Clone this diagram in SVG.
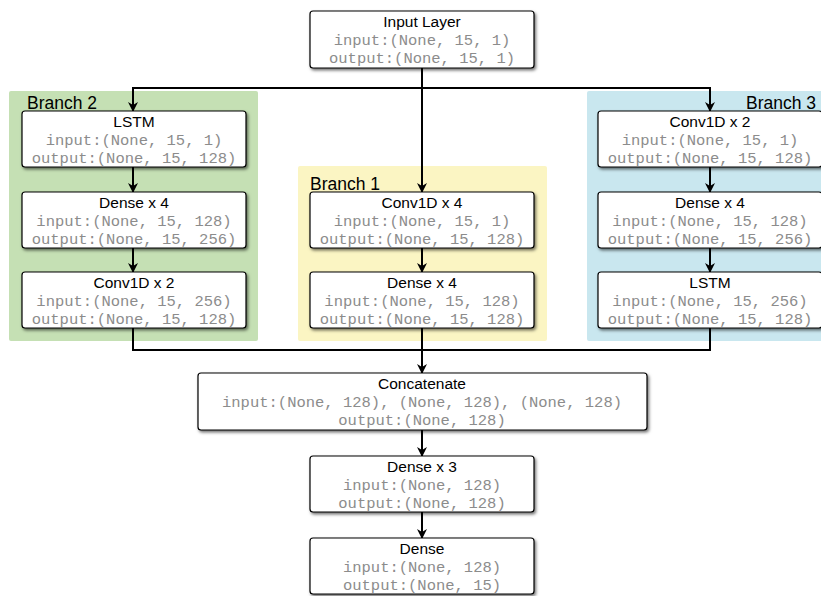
<svg xmlns="http://www.w3.org/2000/svg" width="821" height="596" viewBox="0 0 821 596">
<defs>
<filter id="sh" x="-10%" y="-10%" width="125%" height="140%">
<feDropShadow dx="1.5" dy="2" stdDeviation="1.5" flood-color="#000" flood-opacity="0.55"/>
</filter>
<marker id="ah" viewBox="0 0 10 10" refX="9" refY="5" markerWidth="10" markerHeight="10" markerUnits="userSpaceOnUse" orient="auto">
<path d="M0,0 L10,5 L0,10 L3,5 Z" fill="#000"/>
</marker>
<style>
.box{fill:#fff;stroke:#000;stroke-width:1.2;filter:url(#sh)}
.t{font-family:"Liberation Sans",Arial,sans-serif;font-size:15.5px;fill:#000;text-anchor:middle}
.m{font-family:"Liberation Mono","Courier New",monospace;font-size:15.5px;fill:#8c8c8c;text-anchor:middle}
.bl{font-family:"Liberation Sans",Arial,sans-serif;font-size:17.5px;fill:#000}
.c{fill:none;stroke:#000;stroke-width:2}
</style>
</defs>
<rect width="821" height="596" fill="#fff"/>
<g id="branches">
<rect x="9" y="91" width="249" height="250" rx="2" fill="#c5e0b4"/>
<rect x="298" y="166" width="249" height="175" rx="2" fill="#fbf5c3"/>
<rect x="587" y="91" width="240" height="250" rx="2" fill="#c9e7ef"/>
<text class="bl" x="27" y="109">Branch 2</text>
<text class="bl" x="310" y="190">Branch 1</text>
<text class="bl" x="816" y="109" text-anchor="end">Branch 3</text>
</g>
<g id="connectors">
<path class="c" d="M422,68 V192" marker-end="url(#ah)"/>
<path class="c" d="M133,111 V88 H710 V111" marker-end="url(#ah)"/>
<path class="c" d="M133,88 V111" marker-end="url(#ah)"/>
<path class="c" d="M133,167 V192" marker-end="url(#ah)"/>
<path class="c" d="M133,248 V272" marker-end="url(#ah)"/>
<path class="c" d="M710,167 V192" marker-end="url(#ah)"/>
<path class="c" d="M710,248 V272" marker-end="url(#ah)"/>
<path class="c" d="M422,248 V272" marker-end="url(#ah)"/>
<path class="c" d="M133,328 V350 H710 V328"/>
<path class="c" d="M422,328 V373" marker-end="url(#ah)"/>
<path class="c" d="M422,430 V456" marker-end="url(#ah)"/>
<path class="c" d="M422,512 V538" marker-end="url(#ah)"/>
</g>
<g id="input">
<rect class="box" x="310" y="11" width="224" height="57" rx="3"/>
<text class="t" x="422" y="27">Input Layer</text>
<text class="m" x="422" y="45">input:(None, 15, 1)</text>
<text class="m" x="422" y="63">output:(None, 15, 1)</text>
</g>
<g id="b2_lstm">
<rect class="box" x="22" y="111" width="224" height="56" rx="3"/>
<text class="t" x="134" y="127">LSTM</text>
<text class="m" x="134" y="145">input:(None, 15, 1)</text>
<text class="m" x="134" y="163">output:(None, 15, 128)</text>
</g>
<g id="b2_dense">
<rect class="box" x="22" y="192" width="224" height="56" rx="3"/>
<text class="t" x="134" y="208">Dense x 4</text>
<text class="m" x="134" y="226">input:(None, 15, 128)</text>
<text class="m" x="134" y="244">output:(None, 15, 256)</text>
</g>
<g id="b2_conv">
<rect class="box" x="22" y="272" width="224" height="56" rx="3"/>
<text class="t" x="134" y="288">Conv1D x 2</text>
<text class="m" x="134" y="306">input:(None, 15, 256)</text>
<text class="m" x="134" y="324">output:(None, 15, 128)</text>
</g>
<g id="b1_conv">
<rect class="box" x="310" y="192" width="224" height="56" rx="3"/>
<text class="t" x="422" y="208">Conv1D x 4</text>
<text class="m" x="422" y="226">input:(None, 15, 1)</text>
<text class="m" x="422" y="244">output:(None, 15, 128)</text>
</g>
<g id="b1_dense">
<rect class="box" x="310" y="272" width="224" height="56" rx="3"/>
<text class="t" x="422" y="288">Dense x 4</text>
<text class="m" x="422" y="306">input:(None, 15, 128)</text>
<text class="m" x="422" y="324">output:(None, 15, 128)</text>
</g>
<g id="b3_conv">
<rect class="box" x="598" y="111" width="224" height="56" rx="3"/>
<text class="t" x="710" y="127">Conv1D x 2</text>
<text class="m" x="710" y="145">input:(None, 15, 1)</text>
<text class="m" x="710" y="163">output:(None, 15, 128)</text>
</g>
<g id="b3_dense">
<rect class="box" x="598" y="192" width="224" height="56" rx="3"/>
<text class="t" x="710" y="208">Dense x 4</text>
<text class="m" x="710" y="226">input:(None, 15, 128)</text>
<text class="m" x="710" y="244">output:(None, 15, 256)</text>
</g>
<g id="b3_lstm">
<rect class="box" x="598" y="272" width="224" height="56" rx="3"/>
<text class="t" x="710" y="288">LSTM</text>
<text class="m" x="710" y="306">input:(None, 15, 256)</text>
<text class="m" x="710" y="324">output:(None, 15, 128)</text>
</g>
<g id="concat">
<rect class="box" x="198" y="373" width="449" height="57" rx="3"/>
<text class="t" x="422" y="389">Concatenate</text>
<text class="m" x="422" y="407">input:(None, 128), (None, 128), (None, 128)</text>
<text class="m" x="422" y="425">output:(None, 128)</text>
</g>
<g id="dense3">
<rect class="box" x="310" y="456" width="224" height="56" rx="3"/>
<text class="t" x="422" y="472">Dense x 3</text>
<text class="m" x="422" y="490">input:(None, 128)</text>
<text class="m" x="422" y="508">output:(None, 128)</text>
</g>
<g id="dense">
<rect class="box" x="310" y="538" width="224" height="56" rx="3"/>
<text class="t" x="422" y="554">Dense</text>
<text class="m" x="422" y="572">input:(None, 128)</text>
<text class="m" x="422" y="590">output:(None, 15)</text>
</g>
</svg>
